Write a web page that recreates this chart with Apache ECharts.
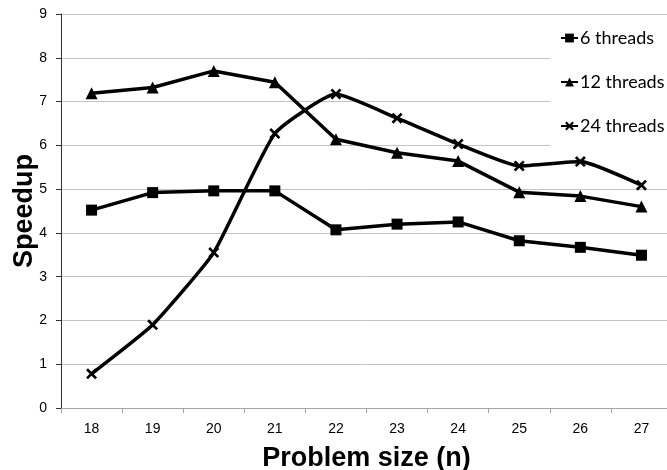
<!DOCTYPE html>
<html>
<head>
<meta charset="utf-8">
<script src="https://cdn.jsdelivr.net/npm/echarts@6/dist/echarts.min.js"></script>
<style>
html,body{margin:0;padding:0;background:#fff;}
#chart{width:667px;height:470px;}
</style>
</head>
<body>
<div id="chart"></div>
<script>
const categories = ['18','19','20','21','22','23','24','25','26','27'];
const seriesNames = ['6 threads','12 threads','24 threads'];
const threads6  = [4.52, 4.92, 4.96, 4.96, 4.07, 4.20, 4.25, 3.82, 3.67, 3.49];
const threads12 = [7.19, 7.32, 7.70, 7.44, 6.14, 5.83, 5.64, 4.93, 4.84, 4.60];
const threads24 = [0.78, 1.90, 3.55, 6.27, 7.17, 6.62, 6.03, 5.53, 5.63, 5.09];
const yTicks = [0,1,2,3,4,5,6,7,8,9];

const xSymbol = 'path://M0,1.7 L1.7,0 L5,3.3 L8.3,0 L10,1.7 L6.7,5 L10,8.3 L8.3,10 L5,6.7 L1.7,10 L0,8.3 L3.3,5 Z';

const chart = echarts.init(document.getElementById('chart'), null, {renderer:'canvas'});
const baseFont = 'Liberation Sans, Arial, sans-serif';
function mkSeries(name, data, symbol, size, smooth){
  return {
    name: name, type: 'line', data: data,
    symbol: symbol, symbolSize: size, smooth: smooth,
    lineStyle: {color:'#000', width:3.5},
    itemStyle: {color:'#000', borderWidth:0},
    emphasis: {disabled:true}
  };
}
chart.setOption({
  animation: false,
  grid: {left: 61, top: 14, width: 611, height: 394, containLabel: false, outerBoundsMode: 'none'},
  legend: {
    orient: 'vertical', left: 550, top: 15,
    backgroundColor: '#fff',
    padding: [14, 20, 12, 10],
    itemGap: 26, itemWidth: 17, itemHeight: 11,
    textStyle: {fontFamily: 'Lato, sans-serif', fontSize: 18, color: '#000', padding: [0,0,0,-3]},
    data: seriesNames
  },
  xAxis: {
    type: 'category', data: categories, boundaryGap: true,
    name: 'Problem size (n)', nameLocation: 'middle', nameGap: 37, nameMoveOverlap: false,
    nameTextStyle: {fontFamily: baseFont, fontSize: 27, fontWeight: 'bold', color: '#000'},
    axisLine: {lineStyle: {color: '#a6a6a6', width: 1}},
    axisTick: {show: true, length: 5, lineStyle: {color: '#a6a6a6'}},
    axisLabel: {fontFamily: baseFont, fontSize: 14, color: '#000', margin: 14},
    splitLine: {show: false}
  },
  yAxis: {
    type: 'value', min: yTicks[0], max: yTicks[yTicks.length-1], interval: 1,
    name: 'Speedup', nameLocation: 'middle', nameGap: 23, nameMoveOverlap: false,
    nameTextStyle: {fontFamily: baseFont, fontSize: 27, fontWeight: 'bold', color: '#000'},
    axisLine: {show: true, lineStyle: {color: '#333', width: 1}},
    axisTick: {show: true, length: 5, lineStyle: {color: '#333'}},
    axisLabel: {fontFamily: baseFont, fontSize: 14, color: '#000', margin: 14},
    splitLine: {show: true, lineStyle: {color: '#c4c4c4', width: 1}}
  },
  series: [
    mkSeries(seriesNames[0], threads6, 'rect', 11, false),
    mkSeries(seriesNames[1], threads12, 'triangle', 12, false),
    mkSeries(seriesNames[2], threads24, xSymbol, 11, 0.15)
  ]
});
</script>
</body>
</html>
